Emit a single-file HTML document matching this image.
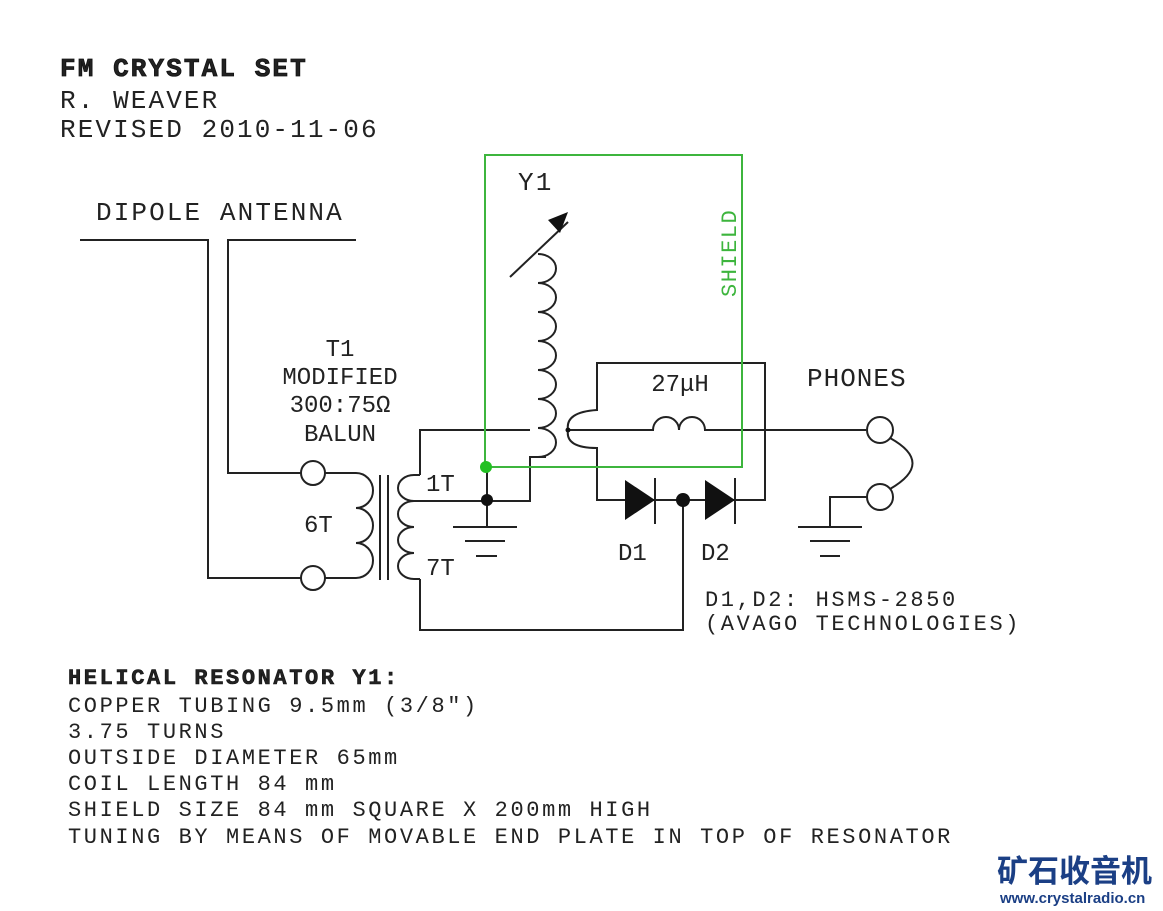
<!DOCTYPE html>
<html><head><meta charset="utf-8"><style>
html,body{margin:0;padding:0;background:#fff;}
svg{display:block}
text{font-family:"Liberation Mono",monospace;fill:#222}
</style></head><body>
<svg width="1163" height="911" viewBox="0 0 1163 911" xmlns="http://www.w3.org/2000/svg">
<g font-size="26" letter-spacing="2.1">
<text x="60" y="76" font-weight="bold" fill="#111" stroke="#111" stroke-width="0.8">FM CRYSTAL SET</text>
<text x="60" y="108">R. WEAVER</text>
<text x="60" y="137">REVISED 2010-11-06</text>
<text x="96" y="220">DIPOLE ANTENNA</text>
<text x="518" y="190">Y1</text>
<text x="340" y="356" text-anchor="middle" font-size="24" letter-spacing="0">T1</text>
<text x="340" y="384" text-anchor="middle" font-size="24" letter-spacing="0">MODIFIED</text>
<text x="340" y="412" text-anchor="middle" font-size="24" letter-spacing="0">300:75Ω</text>
<text x="340" y="441" text-anchor="middle" font-size="24" letter-spacing="0">BALUN</text>
<text x="304" y="532" font-size="24" letter-spacing="0">6T</text>
<text x="426" y="491" font-size="24" letter-spacing="0">1T</text>
<text x="426" y="575" font-size="24" letter-spacing="0">7T</text>
<text x="680" y="391" text-anchor="middle" font-size="24" letter-spacing="0">27μH</text>
<text x="807" y="386" font-size="26" letter-spacing="1">PHONES</text>
<text x="618" y="560" font-size="24" letter-spacing="0">D1</text>
<text x="701" y="560" font-size="24" letter-spacing="0">D2</text>
</g>
<g font-size="22" letter-spacing="2.6">
<text x="705" y="606">D1,D2: HSMS-2850</text>
<text x="705" y="630">(AVAGO TECHNOLOGIES)</text>
<text x="68" y="684" font-weight="bold" fill="#111" stroke="#111" stroke-width="0.6">HELICAL RESONATOR Y1:</text>
<text x="68" y="712">COPPER TUBING 9.5mm (3/8")</text>
<text x="68" y="738">3.75 TURNS</text>
<text x="68" y="764">OUTSIDE DIAMETER 65mm</text>
<text x="68" y="790">COIL LENGTH 84 mm</text>
<text x="68" y="816">SHIELD SIZE 84 mm SQUARE X 200mm HIGH</text>
<text x="68" y="843">TUNING BY MEANS OF MOVABLE END PLATE IN TOP OF RESONATOR</text>
</g>
<text x="736" y="297" transform="rotate(-90 736 297)" font-size="22" letter-spacing="1.5" style="fill:#3db53d">SHIELD</text>

<g fill="none" stroke="#222" stroke-width="2">
<polyline points="80,240 208,240 208,578 301,578"/>
<polyline points="356,240 228,240 228,473 301,473"/>
<circle cx="313" cy="473" r="12"/>
<circle cx="313" cy="578" r="12"/>
<path d="M325,473 H356 A17,17.5 0 0 1 356,508 A17,17.5 0 0 1 356,543 A17,17.5 0 0 1 356,578 H325"/>
<line x1="380" y1="475" x2="380" y2="580"/>
<line x1="388" y1="475" x2="388" y2="580"/>
<path d="M420,475 H414 A16,13 0 0 0 414,501 A16,13 0 0 0 414,527 A16,13 0 0 0 414,553 A16,13 0 0 0 414,579 H420"/>
<polyline points="420,475 420,430 530,430"/>
<polyline points="412,501 530,501 530,457 546,457"/>
<polyline points="420,579 420,630 683,630 683,500"/>
<line x1="487" y1="467" x2="487" y2="527"/>
<line x1="453" y1="527" x2="517" y2="527"/>
<line x1="465" y1="541" x2="505" y2="541"/>
<line x1="476" y1="556" x2="497" y2="556"/>
<path d="M546,457 H538 A18,14.5 0 0 0 538,428 A18,14.5 0 0 0 538,399 A18,14.5 0 0 0 538,370 A18,14.5 0 0 0 538,341 A18,14.5 0 0 0 538,312 A18,14.5 0 0 0 538,283 A18,14.5 0 0 0 538,254"/>
<line x1="510" y1="277" x2="568" y2="222"/>
<path d="M597,500 V448 Q565,448 568,430 Q565,412 597,410 V363 H765 V500 Z"/>
<path d="M568,430 H653 A13,13 0 0 1 679,430 A13,13 0 0 1 705,430 H866"/>
<circle cx="880" cy="430" r="13"/>
<circle cx="880" cy="497" r="13"/>
<path d="M890,438 Q935,463 890,489"/>
<polyline points="867,497 830,497 830,527"/>
<line x1="798" y1="527" x2="862" y2="527"/>
<line x1="810" y1="541" x2="850" y2="541"/>
<line x1="820" y1="556" x2="840" y2="556"/>
<line x1="655" y1="478" x2="655" y2="524"/>
<line x1="735" y1="478" x2="735" y2="524"/>
</g>
<polygon points="568,212 548,220 560,233" fill="#111"/>
<polygon points="625,480 655,500 625,520" fill="#111"/>
<polygon points="705,480 735,500 705,520" fill="#111"/>
<circle cx="487" cy="500" r="6" fill="#111"/>
<circle cx="683" cy="500" r="7" fill="#111"/>
<circle cx="568" cy="430" r="2.5" fill="#111"/>
<g fill="none" stroke="#3db53d" stroke-width="2">
<polyline points="487,467 485,467 485,155 742,155 742,467 487,467"/>
</g>
<circle cx="486" cy="467" r="6" fill="#22c022"/>
<text x="997" y="882" font-weight="bold" font-size="31" style="fill:#1b3f85;font-family:'Noto Sans CJK SC',sans-serif">矿石收音机</text>
<text x="1000" y="903" font-weight="bold" font-size="15" style="fill:#1b3f85;font-family:'Liberation Sans',sans-serif">www.crystalradio.cn</text>
</svg>
</body></html>
